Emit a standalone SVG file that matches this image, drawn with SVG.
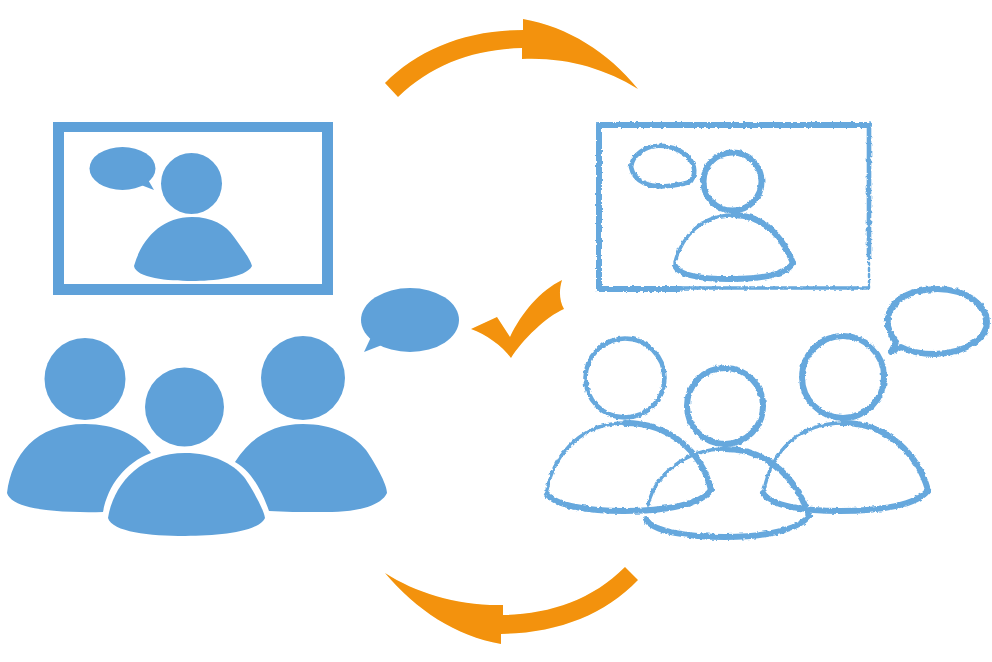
<svg xmlns="http://www.w3.org/2000/svg" width="992" height="662" viewBox="0 0 992 662">
<style>
.solid{fill:#5fa1d9}
.orange{fill:#f39208}
.sk{fill:none;stroke:#66a8dd;stroke-linecap:round;stroke-linejoin:round}
.t1{stroke-width:2.4}.t2{stroke-width:3.4}.t3{stroke-width:4.6}.t4{stroke-width:6}
</style>
<defs>
<filter id="soft" x="-5%" y="-5%" width="110%" height="110%"><feGaussianBlur stdDeviation="0.6"/></filter>
<filter id="rough" filterUnits="userSpaceOnUse" x="0" y="0" width="992" height="662">
<feTurbulence type="fractalNoise" baseFrequency="0.28" numOctaves="2" seed="4" result="n"/>
<feDisplacementMap in="SourceGraphic" in2="n" scale="3.4" xChannelSelector="R" yChannelSelector="G"/>
<feGaussianBlur stdDeviation="0.55"/>
</filter>
</defs>
<rect width="992" height="662" fill="#fff"/>
<g id="connectors" class="orange" filter="url(#soft)">
<path id="arrow-top" d="M385 83C418 50 465 30 523 30L523 19C568 27 608 52 638 89C604 68 565 57 522 59L522 48C475 49 432 64 398 97Z"/>
<path id="arrow-bottom" d="M638 580C604 615 558 633 501 634L501 644C456 636 416 610 385 573C416 593 458 606 503 605L503 615C550 614 592 600 625 567Z"/>
</g>
<g id="check" class="orange" filter="url(#soft)">
<path d="M471 329L497 317L510 337C522 312 540 291 562 280C559 290 559 300 564 309C547 316 522 340 511 358C502 346 486 334 471 329Z"/>
</g>
<g id="solid-screen" class="solid" filter="url(#soft)">
<path fill-rule="evenodd" d="M53 122H333V295H53ZM64 132V284H322V132Z"/>
<ellipse cx="122.500" cy="168.500" rx="33" ry="21.500"/>
<path d="M154 190L147 178L141 185Z"/>
<circle cx="191.500" cy="183.500" r="30.500"/>
<path d="M134 266C142 238 162 217 192 217C212 217 226 225 234 237C241 247 250 258 252 266C246 278 212 281 192 281C168 281 136 278 134 266Z"/>
</g>
<g id="solid-person-left" class="solid" filter="url(#soft)">
<ellipse cx="85" cy="379" rx="40.500" ry="41"/>
<path d="M7 493C12 455 35 424 85 424C115 424 138 435 151 453C125 463 108 485 103 512C60 513 12 510 7 493Z"/>
</g>
<g id="solid-person-middle" class="solid" filter="url(#soft)">
<ellipse cx="184.500" cy="407" rx="39.500" ry="39.500"/>
<path d="M108 518C113 485 140 453 185 453C212 453 232 463 244 477C252 488 264 510 265 518C258 532 220 536 185 536C150 536 112 532 108 518Z"/>
</g>
<g id="solid-person-right" class="solid" filter="url(#soft)">
<ellipse cx="303" cy="378" rx="42" ry="42"/>
<path d="M235 462C250 438 272 424 303 424C332 424 354 435 366 450C375 463 387 484 387 493C380 508 350 513 318 512C300 512 285 512 269 511C263 494 253 472 235 462Z"/>
</g>
<g id="solid-bubble" class="solid" filter="url(#soft)">
<ellipse cx="410" cy="320" rx="49" ry="32"/>
<path d="M364 352L372 335L382 345Z"/>
</g>
<g id="sketch-screen" filter="url(#rough)">
<path class="sk t4" d="M599 125H869"/>
<path class="sk t4" d="M599 125V289"/>
<path class="sk t3" d="M869 125V258"/>
<path class="sk t1" d="M869 262V288" stroke-dasharray="3 3"/>
<path class="sk t4" d="M599 289H680"/>
<path class="sk t2" d="M680 288H868"/>
<path class="sk t3" d="M691 181C700 168 690 150 664 146C645 144 632 156 631 167C634 182 650 188 668 186C678 185 686 184 691 181"/>
<circle class="sk t4" cx="732.500" cy="181.500" r="29"/>
<path class="sk t2" d="M675 262C682 236 702 215 733 215"/>
<path class="sk t4" d="M733 215C764 215 782 236 793 263"/>
<path class="sk t4" d="M793 263C786 275 760 279 730 279C702 279 680 276 675 266"/>
</g>
<g id="sketch-person-left" filter="url(#rough)">
<circle class="sk t3" cx="625" cy="378" r="39.500"/>
<path class="sk t2" d="M547 490C555 450 585 423 625 423"/>
<path class="sk t4" d="M625 423C670 423 702 452 711 490"/>
<path class="sk t4" d="M711 490C700 505 665 511 623 511C590 511 556 506 547 494"/>
</g>
<g id="sketch-person-middle" filter="url(#rough)">
<circle class="sk t4" cx="725" cy="406" r="38"/>
<path class="sk t2" d="M648 505C655 475 685 449 725 449"/>
<path class="sk t4" d="M725 449C770 449 797 480 809 516"/>
<path class="sk t4" d="M809 516C798 530 765 537 725 537C690 537 652 532 646 519"/>
</g>
<g id="sketch-person-right" filter="url(#rough)">
<circle class="sk t4" cx="843" cy="377" r="41"/>
<path class="sk t2" d="M764 490C772 450 800 423 843 423"/>
<path class="sk t4" d="M843 423C888 423 918 455 928 490"/>
<path class="sk t4" d="M928 490C918 505 880 511 840 511C805 511 770 506 763 493"/>
</g>
<g id="sketch-bubble" filter="url(#rough)">
<path class="sk t4" d="M896 342C880 322 888 300 915 292C945 284 975 292 986 315C992 338 965 353 935 354C920 354 910 352 901 347L891 352L896 342"/>
</g>
</svg>
